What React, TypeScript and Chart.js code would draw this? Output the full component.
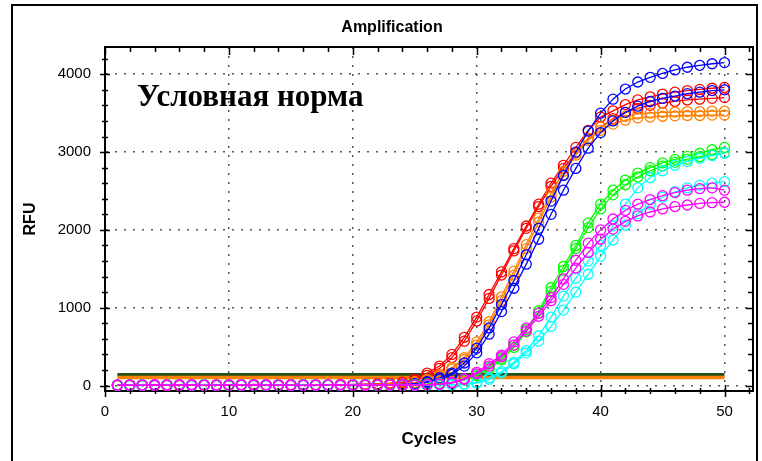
import React, { useEffect, useRef } from "react";
import { Chart, registerables } from "chart.js";

Chart.register(...registerables);

const cycles = [
  1, 2, 3, 4, 5, 6, 7, 8, 9, 10, 11, 12, 13, 14, 15, 16, 17, 18, 19, 20, 21, 22, 23, 24, 25,
  26, 27, 28, 29, 30, 31, 32, 33, 34, 35, 36, 37, 38, 39, 40, 41, 42, 43, 44, 45, 46, 47, 48, 49, 50,
];

const xTickValues = [0, 10, 20, 30, 40, 50];
const yTickValues = [0, 1000, 2000, 3000, 4000];

const redA = [
  5, 8, 3, 10, 6, 12, 4, 9, 7, 11, 5, 14, 8, 6, 10, 13, 7, 9, 12, 15, 18, 24, 30,
  45, 80, 160, 250, 400, 620, 880, 1170, 1460, 1760, 2050, 2330, 2600, 2830, 3060, 3280, 3450,
  3530, 3610, 3670, 3710, 3745, 3770, 3790, 3805, 3820, 3830,
];
const redB = [
  2, 6, 9, 4, 8, 3, 11, 7, 5, 9, 12, 6, 10, 4, 8, 11, 9, 6, 13, 10, 16, 20, 26,
  38, 70, 130, 220, 360, 570, 830, 1120, 1420, 1730, 2020, 2300, 2560, 2790, 2990, 3170, 3320,
  3430, 3510, 3560, 3600, 3630, 3650, 3670, 3680, 3690, 3700,
];
const orangeA = [
  4, 7, 2, 9, 5, 10, 6, 3, 8, 11, 7, 4, 9, 12, 6, 8, 10, 5, 9, 13, 11, 15, 19, 25,
  40, 80, 140, 230, 360, 560, 820, 1140, 1470, 1810, 2150, 2470, 2750, 2990, 3180, 3320,
  3410, 3460, 3490, 3500, 3510, 3515, 3520, 3520, 3525, 3525,
];
const orangeB = [
  6, 3, 8, 5, 10, 4, 7, 9, 3, 8, 6, 10, 5, 7, 11, 4, 8, 12, 7, 10, 9, 14, 17, 22,
  35, 70, 125, 210, 335, 520, 780, 1090, 1420, 1760, 2100, 2420, 2710, 2960, 3150, 3280,
  3360, 3410, 3440, 3450, 3460, 3465, 3470, 3470, 3475, 3475,
];
const blueA = [
  3, 6, 1, 8, 4, 7, 2, 9, 5, 3, 7, 10, 4, 6, 8, 2, 9, 5, 7, 4, 8, 10, 12, 16, 24,
  50, 100, 160, 290, 480, 740, 1040, 1350, 1680, 2020, 2370, 2700, 3000, 3270, 3500,
  3680, 3810, 3900, 3960, 4010, 4055, 4090, 4115, 4135, 4150,
];
const blueB = [
  5, 2, 7, 4, 9, 3, 6, 8, 2, 5, 9, 4, 7, 3, 6, 10, 5, 8, 4, 7, 9, 6, 11, 14, 20,
  40, 80, 140, 250, 420, 660, 950, 1250, 1560, 1880, 2200, 2510, 2790, 3050, 3250,
  3400, 3510, 3590, 3650, 3690, 3720, 3750, 3770, 3790, 3800,
];
const greenA = [
  4, 8, 2, 6, 10, 3, 7, 5, 9, 1, 6, 8, 4, 10, 3, 7, 5, 9, 2, 6, 8, 4, 7, 10, 12, 18, 28,
  40, 80, 140, 230, 350, 520, 720, 960, 1260, 1530, 1800, 2090, 2330,
  2510, 2640, 2730, 2800, 2860, 2905, 2945, 2985, 3030, 3060,
];
const greenB = [
  6, 2, 9, 5, 3, 8, 4, 10, 6, 2, 7, 9, 5, 3, 8, 6, 10, 4, 7, 9, 3, 6, 8, 5, 11, 15, 24,
  35, 70, 125, 210, 330, 490, 690, 930, 1210, 1480, 1760, 2030, 2270,
  2450, 2580, 2680, 2760, 2820, 2870, 2910, 2940, 2970, 2990,
];
const cyanA = [
  2, 7, 4, 9, 1, 6, 3, 8, 5, 10, 2, 7, 4, 9, 6, 3, 8, 1, 5, 7, 10, 4, 6, 2, 8, 5, 9, 12, 20,
  40, 100, 180, 300, 450, 640, 880, 1150, 1380, 1600, 1800,
  2050, 2330, 2540, 2670, 2760, 2830, 2880, 2920, 2955, 2985,
];
const cyanB = [
  5, 1, 8, 3, 6, 10, 4, 7, 2, 9, 5, 3, 8, 6, 1, 7, 4, 10, 3, 8, 5, 2, 9, 6, 4, 7, 10, 10, 16,
  30, 80, 160, 280, 420, 570, 760, 970, 1200, 1430, 1660,
  1870, 2060, 2210, 2330, 2420, 2490, 2540, 2575, 2600, 2620,
];
const magentaA = [
  3, 9, 5, 1, 7, 4, 10, 6, 2, 8, 5, 3, 9, 7, 1, 6, 4, 8, 10, 3, 7, 5, 9, 2, 8, 12, 20,
  40, 90, 170, 280, 390, 560, 740, 930, 1130, 1370, 1610, 1830, 2000,
  2140, 2250, 2330, 2390, 2440, 2480, 2510, 2530, 2540, 2510,
];
const magentaB = [
  7, 3, 6, 10, 2, 8, 5, 1, 9, 4, 7, 10, 3, 6, 8, 2, 9, 5, 4, 7, 1, 8, 6, 10, 5, 9, 16,
  30, 80, 150, 250, 370, 520, 700, 890, 1090, 1300, 1510, 1710, 1880,
  2010, 2110, 2180, 2230, 2270, 2300, 2320, 2340, 2350, 2355,
];

const thresholdCycles = [1, 50];
const thresholdGreen = 140;
const thresholdOrange = 102;

const xMajorStep = 10;
const xMinorStep = 2;
const yMajorStep = 1000;
const yMinorStep = 200;

const series = [
  { label: "Magenta B", values: magentaB, color: "#ff00ff" },
  { label: "Magenta A", values: magentaA, color: "#ff00ff" },
  { label: "Cyan B", values: cyanB, color: "#00ffff" },
  { label: "Cyan A", values: cyanA, color: "#00ffff" },
  { label: "Green B", values: greenB, color: "#00ff00" },
  { label: "Green A", values: greenA, color: "#00ff00" },
  { label: "Blue B", values: blueB, color: "#0000ff" },
  { label: "Blue A", values: blueA, color: "#0000ff" },
  { label: "Orange B", values: orangeB, color: "#ff8000" },
  { label: "Orange A", values: orangeA, color: "#ff8000" },
  { label: "Red B", values: redB, color: "#ff0000" },
  { label: "Red A", values: redA, color: "#ff0000" },
];

const SANS = "'Liberation Sans', Arial, sans-serif";
const SERIF = "'Liberation Serif', 'Times New Roman', serif";

const decorPlugin = {
  id: "decor",
  afterDraw(chart: any) {
    const ctx = chart.ctx as CanvasRenderingContext2D;
    const a = chart.chartArea;
    const xs = chart.scales.x;
    const ys = chart.scales.y;
    ctx.save();
    ctx.strokeStyle = "#000";
    ctx.lineWidth = 2;
    ctx.strokeRect(12, 5, 745, 470);
    ctx.beginPath();
    ctx.moveTo(a.left - 1, a.top);
    ctx.lineTo(a.right, a.top);
    ctx.lineTo(a.right, a.bottom + 1);
    ctx.stroke();
    ctx.lineWidth = 1.5;
    ctx.beginPath();
    for (let v = xs.min; v <= xs.max + 1e-9; v += xMinorStep) {
      const px = Math.round(xs.getPixelForValue(v)) + 0.5;
      const major = Math.abs(v % xMajorStep) < 1e-9;
      const l = major ? 6 : 3;
      ctx.moveTo(px, a.bottom - l);
      ctx.lineTo(px, a.bottom + l);
      const lt = major ? 8 : 5;
      ctx.moveTo(px, a.top);
      ctx.lineTo(px, a.top + lt);
    }
    const yStart = Math.ceil(ys.min / yMinorStep) * yMinorStep;
    for (let v = yStart; v <= ys.max + 1e-9; v += yMinorStep) {
      const py = Math.round(ys.getPixelForValue(v)) + 0.5;
      const major = Math.abs(v % yMajorStep) < 1e-9;
      const l = major ? 5 : 3;
      ctx.moveTo(a.left - l, py);
      ctx.lineTo(a.left + l, py);
      const lr = major ? 7 : 5;
      ctx.moveTo(a.right, py);
      ctx.lineTo(a.right - lr, py);
    }
    ctx.stroke();
    ctx.fillStyle = "#000";
    ctx.font = `bold 16px ${SANS}`;
    ctx.textAlign = "center";
    ctx.textBaseline = "middle";
    ctx.fillText("Amplification", 392, 28);
    ctx.font = `bold 31px ${SERIF}`;
    ctx.textAlign = "left";
    ctx.textBaseline = "alphabetic";
    ctx.fillText("Условная норма", 137, 106);
    ctx.restore();
  },
};

export default function App() {
  const ref = useRef<HTMLCanvasElement | null>(null);
  useEffect(() => {
    if (!ref.current) return;
    const datasets: any[] = series.map((s) => ({
      label: s.label,
      data: cycles.map((c, i) => ({ x: c, y: s.values[i] })),
      borderColor: s.color,
      backgroundColor: "rgba(0,0,0,0)",
      pointBorderColor: s.color,
      pointBackgroundColor: "rgba(0,0,0,0)",
      pointRadius: 5,
      pointBorderWidth: 1.3,
      borderWidth: 1.3,
      tension: 0,
    }));
    datasets.push({
      label: "Threshold orange",
      data: thresholdCycles.map((c) => ({ x: c, y: thresholdOrange })),
      borderColor: "#ff8000",
      borderWidth: 3.5,
      pointRadius: 0,
    });
    datasets.push({
      label: "Threshold green",
      data: thresholdCycles.map((c) => ({ x: c, y: thresholdGreen })),
      borderColor: "#24501c",
      borderWidth: 3.5,
      pointRadius: 0,
    });
    const chart = new Chart(ref.current, {
      type: "line",
      data: { datasets },
      plugins: [decorPlugin],
      options: {
        responsive: false,
        animation: false,
        devicePixelRatio: 1,
        layout: { padding: { top: 47, right: 9, bottom: 0, left: 0 } },
        plugins: {
          legend: { display: false },
          title: { display: false },
          tooltip: { enabled: false },
        },
        scales: {
          x: {
            type: "linear",
            min: 0,
            max: 52.3,
            afterFit: (s: any) => {
              s.height = 70;
            },
            afterBuildTicks: (s: any) => {
              s.ticks = xTickValues.map((v) => ({ value: v }));
            },
            ticks: {
              color: "#000",
              font: { family: SANS, size: 15 },
              padding: 12,
              maxRotation: 0,
              autoSkip: false,
              callback: (v: any) => String(v),
            },
            grid: { drawTicks: false, color: "#555", lineWidth: 1.5 },
            border: { display: true, color: "#000", width: 2, dash: [2, 7] },
            title: {
              display: true,
              text: "Cycles",
              color: "#000",
              font: { family: SANS, size: 17, weight: "bold" },
              padding: { top: 0, bottom: 11 },
            },
          },
          y: {
            type: "linear",
            min: -70,
            max: 4350,
            afterFit: (s: any) => {
              s.width = 105;
            },
            afterBuildTicks: (s: any) => {
              s.ticks = yTickValues.map((v) => ({ value: v }));
            },
            ticks: {
              color: "#000",
              font: { family: SANS, size: 15 },
              padding: 14,
              autoSkip: false,
              callback: (v: any) => String(v),
            },
            grid: { drawTicks: false, color: "#555", lineWidth: 1.5 },
            border: { display: true, color: "#000", width: 2, dash: [2, 7] },
            title: {
              display: true,
              text: "RFU",
              color: "#000",
              font: { family: SANS, size: 16, weight: "bold" },
              padding: { top: 21, bottom: 0 },
            },
          },
        },
      } as any,
    });
    return () => chart.destroy();
  }, []);
  return (
    <div style={{ position: "absolute", left: 0, top: 0, width: 762, height: 461, background: "#fff" }}>
      <canvas ref={ref} width={762} height={461} style={{ display: "block" }} />
    </div>
  );
}
